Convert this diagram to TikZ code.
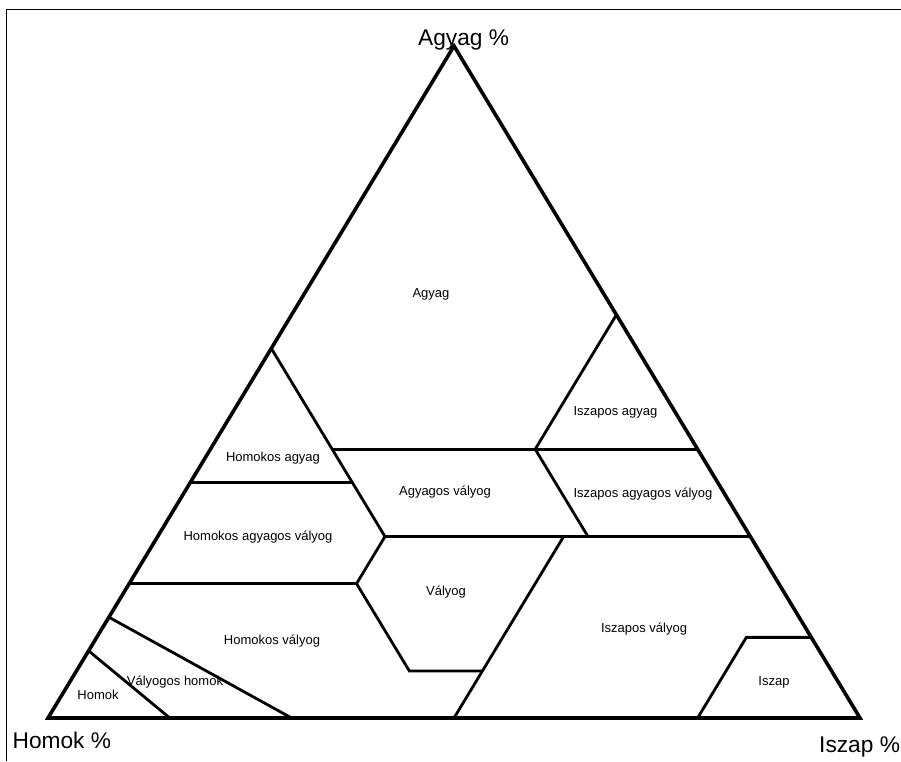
\documentclass[tikz,border=0pt]{standalone}
\usepackage{fontspec}
\setmainfont{Liberation Sans}
\usetikzlibrary{calc}
\tikzset{
  outer/.style={line width=3.6pt, line join=miter, black},
  inner/.style={line width=2.8pt, line cap=butt, black},
  frame/.style={line width=1.4pt, black},
  lab/.style={font=\fontsize{13}{15}\selectfont, anchor=base, inner sep=0pt},
  biglab/.style={font=\fontsize{22.7}{26}\selectfont, anchor=base west, inner sep=0pt}
}
% sand, silt, clay in percent; S=(48,718), L=(860,718), C=(454,46)
\newcommand{\bp}[4]{\coordinate (#1) at ({0.48*#2+8.60*#3+4.54*#4},{7.18*#2+7.18*#3+0.46*#4});}
\begin{document}
\begin{tikzpicture}[x=1pt,y=-1pt]
\useasboundingbox (0,0) rectangle (901,761);
\fill[white] (0,0) rectangle (901,761);
% frame
\coordinate (fr1) at (6.5,761);
\coordinate (fr2) at (6.5,9.5);
\coordinate (fr3) at (901,9.5);
\draw[frame] (fr1) -- (fr2) -- (fr3);
% vertices: S = sand (Homok), L = silt (Iszap), C = clay (Agyag)
\coordinate (S) at (48,718);
\coordinate (L) at (860,718);
\coordinate (C) at (454,46);
% boundary points (sand, silt, clay)
\bp{a1}{45}{0}{55}
\bp{a2}{45}{15}{40}
\bp{a3}{20}{40}{40}
\bp{a4}{0}{40}{60}
\bp{b1}{65}{0}{35}
\bp{b2}{45}{20}{35}
\bp{c1}{45}{28}{27}
\bp{c2}{20}{53}{27}
\bp{d1}{0}{60}{40}
\bp{d2}{0}{73}{27}
\bp{e1}{80}{0}{20}
\bp{e2}{52}{28}{20}
\bp{f1}{23}{50}{27}
\bp{f2}{43}{50}{7}
\bp{f3}{50}{50}{0}
\bp{g1}{52}{41}{7}
\bp{h1}{85}{0}{15}
\bp{h2}{70}{30}{0}
\bp{i1}{90}{0}{10}
\bp{i2}{85}{15}{0}
\bp{j1}{0}{88}{12}
\bp{j2}{8}{80}{12}
\bp{j3}{20}{80}{0}
% inner boundaries
\draw[inner] (a1) -- (c1) -- (e2) -- (g1) -- (f2);
\draw[inner] (a2) -- (d1);
\draw[inner] (a4) -- (a3) -- (c2);
\draw[inner] (b1) -- (b2);
\draw[inner] (c1) -- (d2);
\draw[inner] (e1) -- (e2);
\draw[inner] (f1) -- (f3);
\draw[inner] (h1) -- (h2);
\draw[inner] (i1) -- (i2);
\draw[inner] (j1) -- (j2) -- (j3);
% outer triangle
\draw[outer] (S) -- (L) -- (C) -- cycle;
% region labels
\node[lab] (t1) at (431,297) {Agyag};
\node[lab] (t2) at (273,461) {Homokos agyag};
\node[lab] (t3) at (445,495) {Agyagos vályog};
\node[lab] (t4) at (615.5,415) {Iszapos agyag};
\node[lab] (t5) at (643,497) {Iszapos agyagos vályog};
\node[lab] (t6) at (258,540.5) {Homokos agyagos vályog};
\node[lab] (t7) at (446,595) {Vályog};
\node[lab] (t8) at (644,632) {Iszapos vályog};
\node[lab] (t9) at (272,644) {Homokos vályog};
\node[lab] (t10) at (175,685) {Vályogos homok};
\node[lab] (t11) at (98,699) {Homok};
\node[lab] (t12) at (774,685) {Iszap};
% axis labels
\node[biglab] (x1) at (418,45) {Agyag \%};
\node[biglab] (x2) at (12.5,748) {Homok \%};
\node[biglab] (x3) at (819,752) {Iszap \%};
\end{tikzpicture}
\end{document}
